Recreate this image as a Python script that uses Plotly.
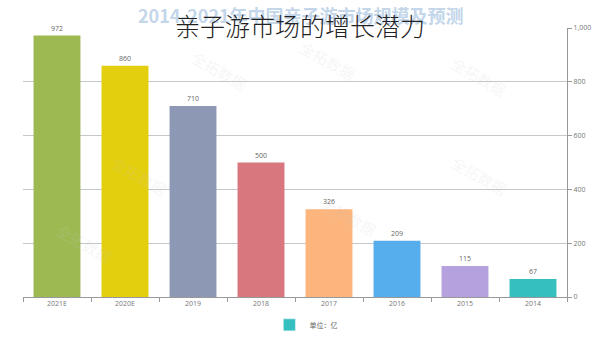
import plotly.graph_objects as go

# Market size by year (单位：亿)
years = ["2021E", "2020E", "2019", "2018", "2017", "2016", "2015", "2014"]
sizes = [972, 860, 710, 500, 326, 209, 115, 67]
bar_colors = ["#9dba52", "#e4cf0e", "#8d99b4", "#d9777e", "#fbb57d",
              "#57aeec", "#b5a1de", "#35c0bf"]
y_ticks = [0, 200, 400, 600, 800, 1000]
y_tick_text = ["0", "200", "400", "600", "800", "1,000"]

fig = go.Figure()

fig.add_trace(go.Bar(
    x=years, y=sizes,
    marker=dict(color=bar_colors, line=dict(width=0)),
    text=[str(v) for v in sizes], textposition="outside",
    textfont=dict(size=7, color="#666", family="Open Sans"),
    cliponaxis=False, width=0.69, showlegend=False,
))

# legend entry for the unit
fig.add_trace(go.Bar(
    x=[years[0]], y=[None], name="单位：亿",
    marker=dict(color="#35c0bf"), showlegend=True,
))

# faint watermarks
for (wx, wy) in [(0.36, 0.94), (0.9, 0.92), (0.15, 0.45), (0.9, 0.45),
                 (0.6, 0.2), (0.05, 0.1), (0.56, 0.98)]:
    fig.add_annotation(x=wx, y=wy, xref="paper", yref="paper",
                       text="全拓数据", showarrow=False, textangle=30,
                       font=dict(size=15, color="rgba(200,200,200,0.18)",
                                 family="Noto Sans CJK SC"))

# background subtitle and overlaid headline
fig.add_annotation(x=0.511, y=1.048, xref="paper", yref="paper",
                   text="<b>2014-2021年中国亲子游市场规模及预测</b>",
                   showarrow=False, yanchor="middle",
                   font=dict(size=18, color="#c3d6ea", family="Noto Sans CJK SC"))
fig.add_annotation(x=0.509, y=1.01, xref="paper", yref="paper",
                   text="亲子游市场的增长潜力", showarrow=False, yanchor="middle",
                   font=dict(size=25, color="#222", family="Noto Sans CJK SC",
                             weight=300))

fig.update_layout(
    width=600, height=337,
    margin=dict(l=23, r=33, t=28, b=40, autoexpand=False),
    paper_bgcolor="white", plot_bgcolor="white",
    barmode="overlay",
    legend=dict(orientation="h", x=0.52, xanchor="center",
                yref="container", y=0.036, yanchor="middle",
                font=dict(size=7, color="#666")),
    xaxis=dict(
        automargin=False,
        showline=True, linecolor="#999", linewidth=1,
        ticks="outside", tickson="boundaries", ticklen=4, tickcolor="#999",
        tickfont=dict(size=7, color="#777", family="Open Sans"),
        showgrid=False,
    ),
    yaxis=dict(
        automargin=False,
        side="right", range=[0, 1000],
        tickvals=y_ticks, ticktext=y_tick_text,
        showline=True, linecolor="#999", linewidth=1,
        ticks="outside", ticklen=4, tickcolor="#999",
        tickfont=dict(size=7, color="#777", family="Open Sans"),
        showgrid=True, gridcolor="#c4c8cc", gridwidth=1,
        zeroline=False,
    ),
    font=dict(family="Noto Sans CJK SC"),
)

fig.write_html("out.html")
